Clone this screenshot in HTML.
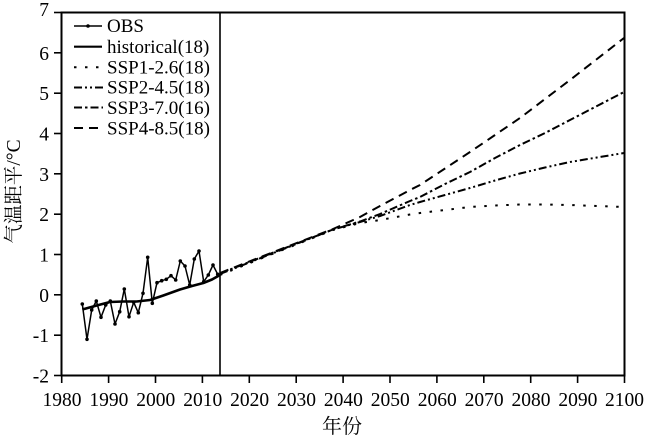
<!DOCTYPE html>
<html><head><meta charset="utf-8"><style>
html,body{margin:0;padding:0;background:#fff;}
svg{display:block;}
text{font-family:"Liberation Serif","Noto Serif CJK SC",serif;fill:#000;}
</style></head><body>
<svg width="650" height="438" viewBox="0 0 650 438" xmlns="http://www.w3.org/2000/svg">
<!-- frame -->
<rect x="61.5" y="12.5" width="563" height="363" fill="none" stroke="#000" stroke-width="2"/>
<!-- vertical line 2014 -->
<line x1="220" y1="12.5" x2="220" y2="375.5" stroke="#000" stroke-width="1.6"/>
<!-- y ticks -->
<g stroke="#000" stroke-width="1.6">
<line x1="54" y1="12.5" x2="61.5" y2="12.5"/>
<line x1="54" y1="52.8" x2="61.5" y2="52.8"/>
<line x1="54" y1="93.2" x2="61.5" y2="93.2"/>
<line x1="54" y1="133.5" x2="61.5" y2="133.5"/>
<line x1="54" y1="173.8" x2="61.5" y2="173.8"/>
<line x1="54" y1="214.2" x2="61.5" y2="214.2"/>
<line x1="54" y1="254.5" x2="61.5" y2="254.5"/>
<line x1="54" y1="294.8" x2="61.5" y2="294.8"/>
<line x1="54" y1="335.2" x2="61.5" y2="335.2"/>
<line x1="54" y1="375.5" x2="61.5" y2="375.5"/>
</g>
<g font-size="19.5" text-anchor="end">
<text x="49" y="16">7</text>
<text x="49" y="59.8">6</text>
<text x="49" y="100.2">5</text>
<text x="49" y="140.5">4</text>
<text x="49" y="180.8">3</text>
<text x="49" y="221.2">2</text>
<text x="49" y="261.5">1</text>
<text x="49" y="301.8">0</text>
<text x="49" y="342.2">-1</text>
<text x="49" y="382.5">-2</text>
</g>
<!-- x ticks -->
<g stroke="#000" stroke-width="1.6">
<line x1="61.7" y1="375.5" x2="61.7" y2="383"/>
<line x1="108.6" y1="375.5" x2="108.6" y2="383"/>
<line x1="155.5" y1="375.5" x2="155.5" y2="383"/>
<line x1="202.4" y1="375.5" x2="202.4" y2="383"/>
<line x1="249.3" y1="375.5" x2="249.3" y2="383"/>
<line x1="296.2" y1="375.5" x2="296.2" y2="383"/>
<line x1="343.1" y1="375.5" x2="343.1" y2="383"/>
<line x1="390" y1="375.5" x2="390" y2="383"/>
<line x1="436.9" y1="375.5" x2="436.9" y2="383"/>
<line x1="483.8" y1="375.5" x2="483.8" y2="383"/>
<line x1="530.7" y1="375.5" x2="530.7" y2="383"/>
<line x1="577.6" y1="375.5" x2="577.6" y2="383"/>
<line x1="624.5" y1="375.5" x2="624.5" y2="383"/>
</g>
<g font-size="19.5" text-anchor="middle">
<text x="62" y="406">1980</text>
<text x="108.9" y="406">1990</text>
<text x="155.8" y="406">2000</text>
<text x="202.7" y="406">2010</text>
<text x="249.6" y="406">2020</text>
<text x="296.5" y="406">2030</text>
<text x="343.4" y="406">2040</text>
<text x="390.3" y="406">2050</text>
<text x="437.2" y="406">2060</text>
<text x="484.1" y="406">2070</text>
<text x="531" y="406">2080</text>
<text x="577.9" y="406">2090</text>
<text x="624.5" y="406">2100</text>
</g>
<text x="342" y="433" font-size="20" text-anchor="middle" style="font-family:'Noto Serif CJK SC','Noto Sans CJK SC',serif">年份</text>
<text x="0" y="0" font-size="19.5" text-anchor="middle" transform="translate(20,191.5) rotate(-90)"><tspan style="font-family:'Noto Serif CJK SC','Noto Sans CJK SC',serif">气温距平</tspan>/°C</text>

<!-- historical -->
<polyline fill="none" stroke="#000" stroke-width="2.6" stroke-linejoin="round" points="82.3,309.5 96.7,305.5 110,302 123,301.5 136.7,301.5 150,300 163.3,295.5 180,289.5 192,286 203.3,283 212,279.5 220,275"/>
<!-- future shared trunk + scenarios -->
<g fill="none" stroke="#000" stroke-width="2" stroke-linejoin="round">
<polyline stroke-dasharray="2.5,8.5" points="220,275 276,252.5 333,230 360,223 380,220 410,214.5 420,213 445,210 470,207 495,205.5 520,204.5 545,204.5 570,205 597,206 624,207"/>
<polyline stroke-dasharray="8,3,2,3,2,3" points="220,274 276,252 333,229.5 360,222 380,216 410,205 420,202 445,195 470,188 495,180.5 520,173.5 545,167.5 570,162 597,157.5 624,153"/>
<polyline stroke-dasharray="8,3,2.5,3" points="220,273.5 276,251.5 333,229.5 360,221.5 380,214 410,201 420,197 445,184 470,172 495,158 520,145 545,133 570,120 597,106 624,92"/>
<polyline stroke-dasharray="9,6" points="220,273 276,251 333,229 360,217 380,206 410,190 420,185 445,168.5 470,152 495,135 520,118 545,99 570,80 597,59 624,38"/>
</g>
<!-- OBS -->
<polyline fill="none" stroke="#000" stroke-width="1.5" stroke-linejoin="round" points="82.3,304 87,339.3 91.7,310 96.3,301 101,317.3 105.7,305 110.3,301 115,324 119.7,311.7 124.3,289 129,316.7 133.7,302.3 138.3,312.7 143,293.3 147.7,257.3 152.3,303.3 157,282.7 161.7,280.7 166.3,279.3 171,275.7 175.7,280 180.3,261 185,266 189.7,285 194.3,259 199,251 203.7,281.7 208.3,275 213,265 217.7,274.3"/>
<g fill="#000">
<circle cx="82.3" cy="304" r="1.8"/><circle cx="87" cy="339.3" r="1.8"/><circle cx="91.7" cy="310" r="1.8"/><circle cx="96.3" cy="301" r="1.8"/><circle cx="101" cy="317.3" r="1.8"/><circle cx="105.7" cy="305" r="1.8"/><circle cx="110.3" cy="301" r="1.8"/><circle cx="115" cy="324" r="1.8"/><circle cx="119.7" cy="311.7" r="1.8"/><circle cx="124.3" cy="289" r="1.8"/><circle cx="129" cy="316.7" r="1.8"/><circle cx="133.7" cy="302.3" r="1.8"/><circle cx="138.3" cy="312.7" r="1.8"/><circle cx="143" cy="293.3" r="1.8"/><circle cx="147.7" cy="257.3" r="1.8"/><circle cx="152.3" cy="303.3" r="1.8"/><circle cx="157" cy="282.7" r="1.8"/><circle cx="161.7" cy="280.7" r="1.8"/><circle cx="166.3" cy="279.3" r="1.8"/><circle cx="171" cy="275.7" r="1.8"/><circle cx="175.7" cy="280" r="1.8"/><circle cx="180.3" cy="261" r="1.8"/><circle cx="185" cy="266" r="1.8"/><circle cx="189.7" cy="285" r="1.8"/><circle cx="194.3" cy="259" r="1.8"/><circle cx="199" cy="251" r="1.8"/><circle cx="203.7" cy="281.7" r="1.8"/><circle cx="208.3" cy="275" r="1.8"/><circle cx="213" cy="265" r="1.8"/><circle cx="217.7" cy="274.3" r="1.8"/>
</g>

<!-- legend -->
<g stroke="#000" fill="none">
<line x1="74" y1="26" x2="102" y2="26" stroke-width="1.5"/>
<line x1="74" y1="46.7" x2="102" y2="46.7" stroke-width="2.2"/>
<line x1="74" y1="67.3" x2="102" y2="67.3" stroke-width="2" stroke-dasharray="2.5,8.5"/>
<line x1="74" y1="87.5" x2="103" y2="87.5" stroke-width="2" stroke-dasharray="8,3,2,3,2,3"/>
<line x1="74" y1="107.5" x2="103" y2="107.5" stroke-width="2" stroke-dasharray="8,3,2.5,3"/>
<line x1="74" y1="128" x2="103" y2="128" stroke-width="2" stroke-dasharray="9,6"/>
</g>
<circle cx="88" cy="26" r="1.8" fill="#000"/>
<g font-size="19">
<text x="107" y="32.2">OBS</text>
<text x="107" y="52.8">historical(18)</text>
<text x="107" y="73.3">SSP1-2.6(18)</text>
<text x="107" y="93.6">SSP2-4.5(18)</text>
<text x="107" y="114">SSP3-7.0(16)</text>
<text x="107" y="134.4">SSP4-8.5(18)</text>
</g>
</svg>
</body></html>
